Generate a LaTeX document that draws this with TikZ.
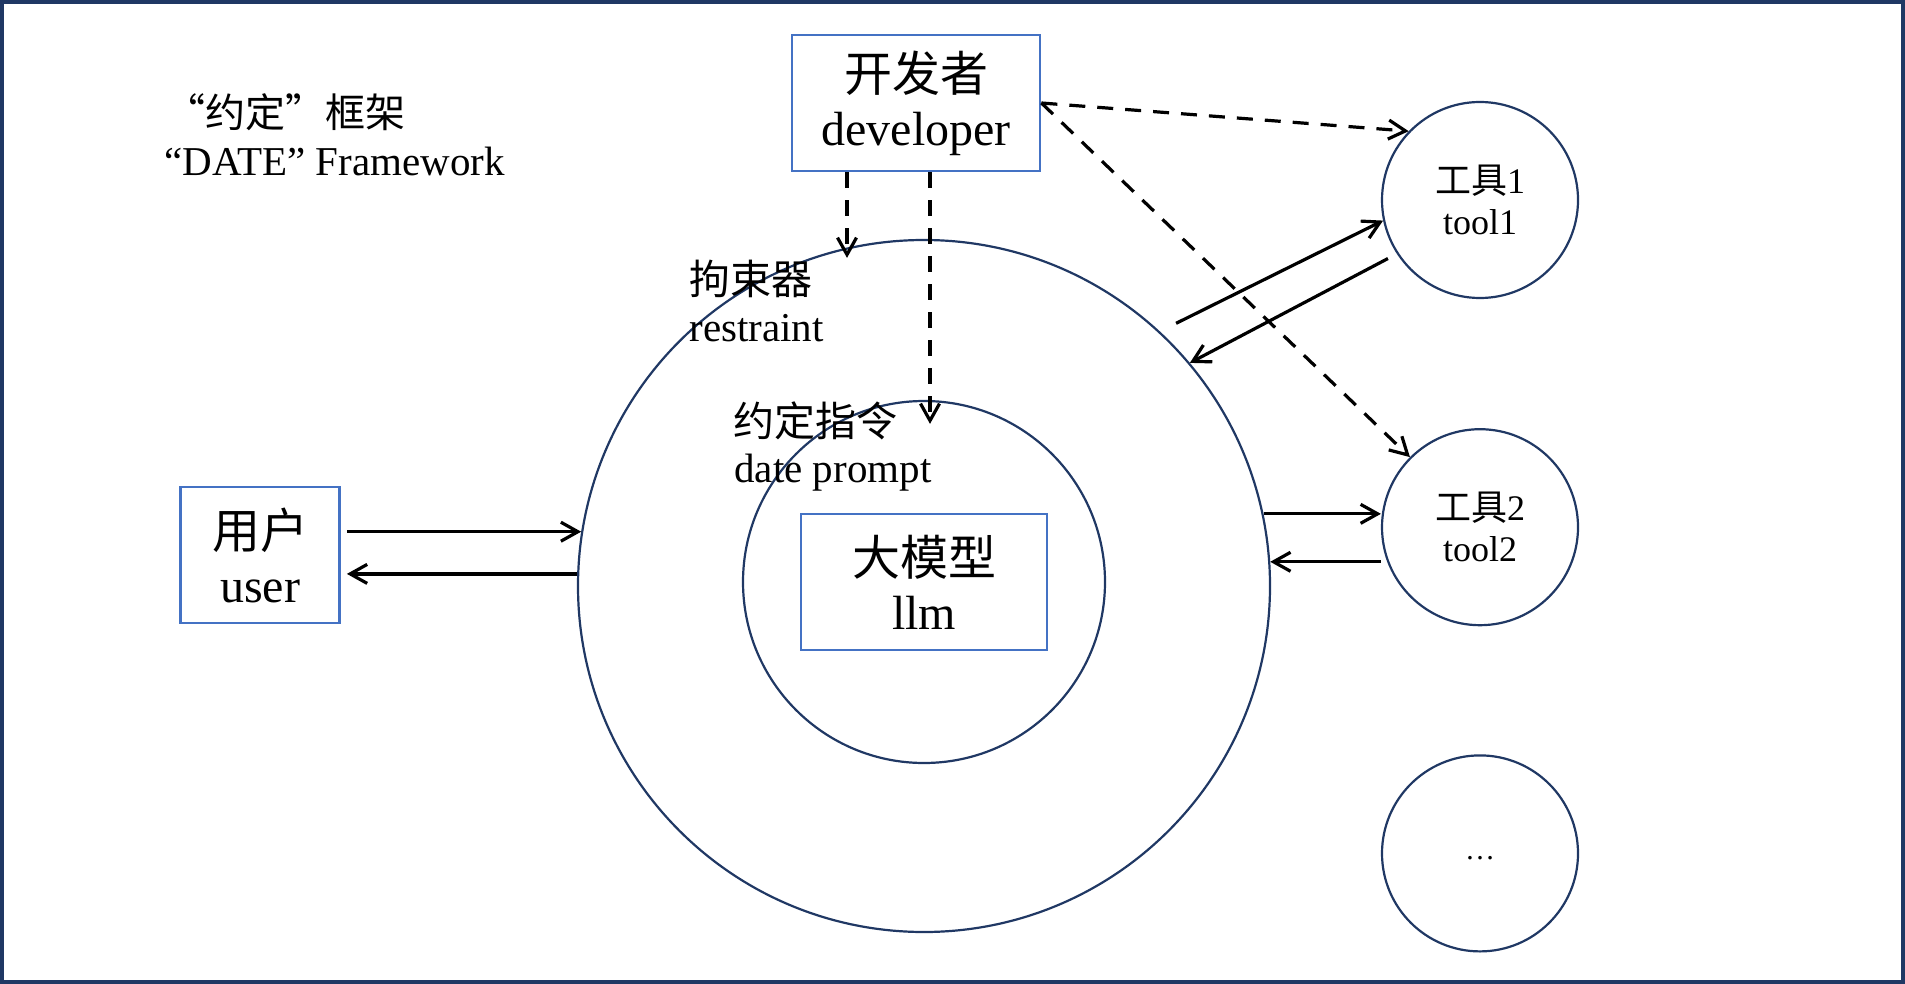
\documentclass[tikz,border=0pt]{standalone}
\usepackage{fontspec}
\setmainfont{Liberation Serif}
\newfontfamily\cjk{Noto Sans CJK SC}
\usetikzlibrary{arrows.meta,positioning,calc}
\definecolor{navy}{HTML}{203864}
\definecolor{boxblue}{HTML}{4472C4}

\begin{document}
\begin{tikzpicture}[
  x=0.5pt, y=-0.5pt,
  node distance=64.5pt,
  box/.style={draw=boxblue,line width=1.4pt,align=center,inner sep=0pt,font=\fontsize{24}{27}\selectfont},
  ring/.style={circle,draw=navy,line width=1.1pt,inner sep=0pt},
  tool/.style={ring,minimum size=98pt,align=center,font=\fontsize{18}{20.5}\selectfont},
  lbl/.style={inner sep=0pt,font=\fontsize{20.5}{23}\selectfont},
  zh/.style={lbl,font=\fontsize{20.5}{23}\selectfont\cjk},
  arr/.style={-{Straight Barb[length=8.5pt,width=9.5pt]},line width=1.6pt},
  darr/.style={arr,dash pattern=on 8pt off 6pt}
]
  \useasboundingbox (0,0) rectangle (1905,984);
  \draw[navy,line width=2pt] (2,2) rectangle (1903,982);

  % title
  \node[zh,anchor=west,font=\fontsize{20}{24}\selectfont\cjk] (ttl) at (165,112) {“约定”框架};
  \node[lbl,anchor=base west] (ttlen) at (164,176) {“DATE” Framework};

  % restraint and prompt rings
  \node[ring,minimum size=346pt] (rst) at (924,586) {};
  \node[ring,minimum size=181pt] (prm) at (924,582) {};
  \node[zh,anchor=west] (rstzh) at (689,279) {拘束器};
  \node[lbl,anchor=base west] (rsten) at (689,341) {restraint};
  \node[zh,anchor=west] (prmzh) at (733,421) {约定指令};
  \node[lbl,anchor=base west] (prmen) at (734,482) {date prompt};

  % boxes
  \node[box,minimum width=124pt,minimum height=68pt] (dev) at (916,103) {{\cjk 开发者}\\developer};
  \node[box,minimum width=79.5pt,minimum height=68pt] (usr) at (260,555) {{\cjk 用户}\\user};
  \node[box,minimum width=123pt,minimum height=68pt] (llm) at (924,582) {{\cjk 大模型}\\llm};

  % tools
  \node[tool] (t1) at (1480,200) {{\cjk 工具}1\\tool1};
  \node[tool,below=of t1] (t2) {{\cjk 工具}2\\tool2};
  \node[tool,below=64pt of t2,font=\fontsize{15}{16}\selectfont] (t3) {\raisebox{-6pt}{…}};

  % user <-> restraint
  \draw[arr] ($(usr.east |- rst.171)+(3pt,0)$) -- (rst.171);
  \draw[arr] (rst.178) -- ($(usr.east |- rst.178)+(3pt,0)$);

  % restraint <-> tools
  \draw[arr] ([shift={(5.5pt,6.5pt)}]rst.46) -- (t1.192);
  \draw[arr] ([shift={(-4pt,-3pt)}]t1.212) -- (rst.40);
  \draw[arr] (rst.12) -- (rst.12 -| t2.west);
  \draw[arr] (rst.4 -| t2.west) -- (rst.4);

  % developer
  \draw[darr] ($(dev.south)+(-34.5pt,0)$) -- ($(dev.south |- rst.north)+(-34.5pt,-9.5pt)$);
  \draw[darr] ($(dev.south)+(7pt,0)$) -- ($(dev.south |- prm.north)+(7pt,-12pt)$);
  \draw[darr] (dev.east) -- (t1.136);
  \draw[darr] (dev.east) -- (t2.135);
\end{tikzpicture}
\end{document}
